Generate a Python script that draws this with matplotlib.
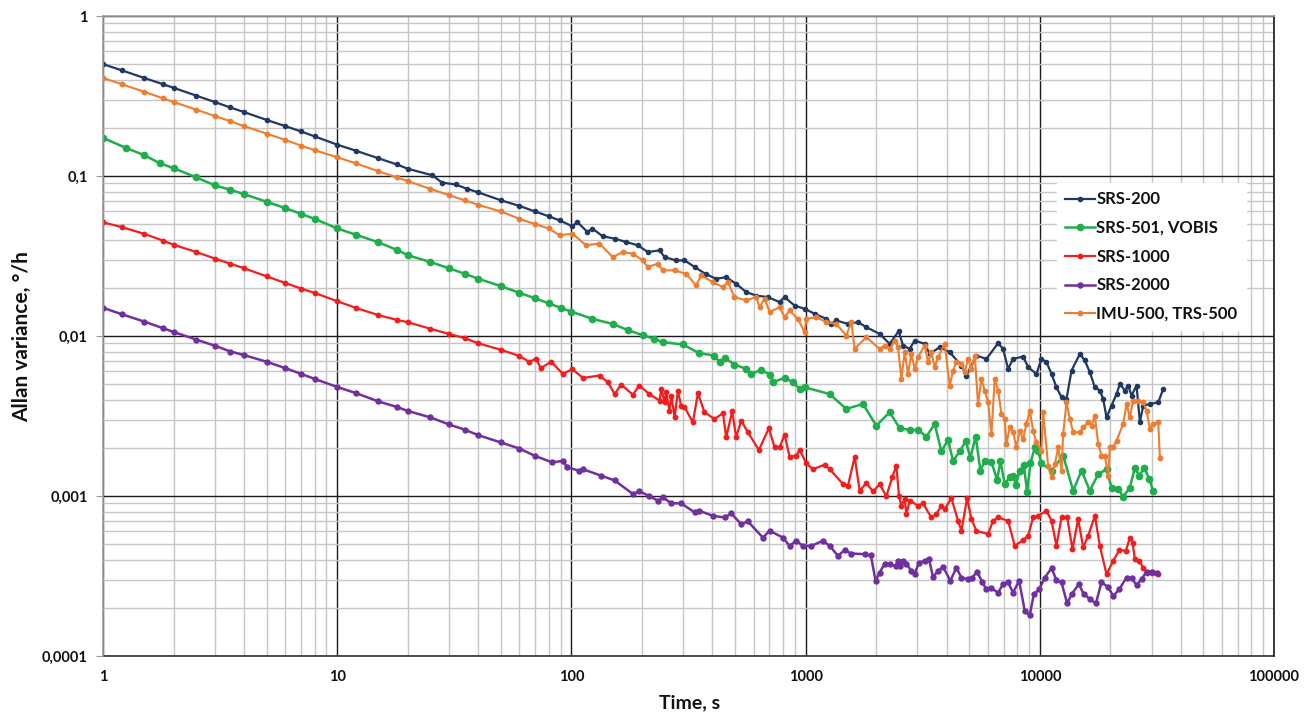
import matplotlib
matplotlib.use("Agg")
import matplotlib.pyplot as plt
from matplotlib.ticker import LogLocator, FuncFormatter, NullFormatter

# ---------------- data (tau [s], Allan variance [deg/h]) ----------------
srs200 = [(1, 0.50), (1.2, 0.458), (1.5, 0.41), (1.8, 0.375), (2, 0.356), (2.5, 0.318), (3, 0.29),
          (3.5, 0.268), (4, 0.251), (5, 0.224), (6, 0.205), (7, 0.19), (8, 0.177), (10, 0.157),
          (12, 0.144), (15, 0.129), (18, 0.118), (20, 0.111), (25.5, 0.101), (28, 0.091), (32, 0.0885),
          (36, 0.083), (40, 0.079), (50, 0.0705), (60, 0.065), (70, 0.06), (80, 0.056), (89, 0.0528),
          (101, 0.0485), (106, 0.0516), (117, 0.0447), (123, 0.0469), (136, 0.042), (153, 0.0406),
          (171, 0.0387), (192, 0.0369), (212, 0.0335), (238, 0.0343), (250, 0.0311), (280, 0.0297),
          (304, 0.0297), (336, 0.027), (376, 0.0243), (415, 0.0228), (458, 0.0233), (505, 0.0212),
          (558, 0.0188), (615, 0.0179), (690, 0.0175), (774, 0.0163), (813, 0.0175), (897, 0.0155),
          (990, 0.0148), (1093, 0.01377), (1226, 0.0128), (1287, 0.0119), (1352, 0.0125), (1517, 0.0119),
          (1674, 0.0122), (1816, 0.01136), (2071, 0.0103), (2286, 0.00893), (2497, 0.01072),
          (2606, 0.00872), (2782, 0.00831), (2923, 0.00937), (3225, 0.00893), (3388, 0.00773),
          (3737, 0.00851), (4124, 0.00792), (4627, 0.00654), (4861, 0.00566), (5363, 0.00755),
          (5917, 0.00719), (6636, 0.00902), (6970, 0.00831), (7322, 0.00623), (7691, 0.00719),
          (8487, 0.00744), (8916, 0.00638), (9677, 0.0058), (10160, 0.00719), (10680, 0.00686),
          (11220, 0.0058), (11780, 0.00478), (12380, 0.00414), (13000, 0.00404), (13660, 0.00608),
          (14830, 0.00773), (15570, 0.00703), (16350, 0.00594), (17180, 0.00478), (18050, 0.00456),
          (18650, 0.00404), (19270, 0.0031), (20240, 0.00367), (21270, 0.00434), (21970, 0.00502),
          (23080, 0.00456), (23850, 0.0049), (24640, 0.00424), (25890, 0.0049), (26750, 0.00289),
          (27640, 0.00367), (29520, 0.00376), (32040, 0.00385), (33660, 0.00467)]

srs501 = [(1, 0.173), (1.25, 0.150), (1.5, 0.135), (1.75, 0.12), (2, 0.112), (2.5, 0.098), (3, 0.0875),
          (3.5, 0.082), (4, 0.077), (5, 0.069), (6, 0.063), (7, 0.058), (8, 0.054), (10, 0.047),
          (12, 0.043), (15, 0.0385), (18, 0.0345), (20, 0.032), (25, 0.029), (30, 0.0265), (35, 0.0245),
          (40, 0.0228), (50, 0.0205), (60, 0.0186), (70, 0.0172), (80, 0.016), (90, 0.015), (100, 0.0142),
          (123, 0.0128), (150, 0.0119), (174, 0.0109), (202, 0.0101), (226, 0.0096), (246, 0.00915),
          (299, 0.00885), (352, 0.0078), (408, 0.00755), (429, 0.00686), (451, 0.0073), (497, 0.00663),
          (558, 0.00623), (586, 0.0058), (646, 0.00614), (702, 0.00574), (725, 0.00514), (813, 0.00547),
          (883, 0.00514), (943, 0.00467), (990, 0.00478), (1266, 0.00434), (1492, 0.0035), (1758, 0.00376),
          (2004, 0.00275), (2286, 0.00334), (2522, 0.00265), (2782, 0.00259), (3020, 0.00259),
          (3279, 0.00235), (3557, 0.00282), (3800, 0.0019), (4056, 0.00224), (4262, 0.00166),
          (4551, 0.0019), (4828, 0.0022), (5053, 0.00174), (5326, 0.00235), (5577, 0.00144),
          (5821, 0.00166), (6215, 0.00164), (6570, 0.00126), (6790, 0.00165), (7085, 0.00119),
          (7442, 0.00131), (7691, 0.00134), (7897, 0.00117), (8212, 0.00144), (8543, 0.00157),
          (8829, 0.00106), (9120, 0.0016), (9519, 0.00201), (9837, 0.00192), (10160, 0.0016),
          (11220, 0.00144), (12580, 0.00179), (13880, 0.00108), (15070, 0.00144), (16350, 0.00108),
          (17760, 0.00137), (19270, 0.00147), (20240, 0.00113), (21610, 0.00111), (22700, 0.00099),
          (24240, 0.00113), (25470, 0.0015), (26580, 0.00134), (27920, 0.0015), (29330, 0.00128),
          (30500, 0.00107)]

srs1000 = [(1, 0.0513), (1.2, 0.048), (1.5, 0.0435), (1.8, 0.0395), (2, 0.0372), (2.5, 0.0335),
           (3, 0.0305), (3.5, 0.0283), (4, 0.0265), (5, 0.0236), (6, 0.0215), (7, 0.0198), (8, 0.0186),
           (10, 0.0165), (12, 0.015), (15, 0.0135), (18, 0.0126), (20, 0.0122), (25, 0.0111), (30, 0.0103),
           (35, 0.0097), (40, 0.009), (50, 0.0082), (60, 0.0075), (66, 0.0069), (70.6, 0.0072), (74, 0.0063),
           (82, 0.0069), (92, 0.0058), (101, 0.0062), (112, 0.00547), (132, 0.00566), (143, 0.00514),
           (153, 0.00434), (163, 0.00497), (183, 0.0043), (195, 0.0049), (215, 0.00434), (238, 0.00395),
           (242, 0.00467), (250, 0.00385), (254, 0.00445), (262, 0.00342), (267, 0.00424), (276, 0.0031),
           (285, 0.00456), (294, 0.00367), (304, 0.00359), (330, 0.00289), (347, 0.00439), (370, 0.00334),
           (408, 0.00303), (444, 0.00329), (458, 0.00233), (486, 0.00338), (505, 0.00233), (531, 0.00296),
           (567, 0.0025), (632, 0.00194), (697, 0.00266), (737, 0.00201), (774, 0.00201), (813, 0.00242),
           (854, 0.00176), (912, 0.00179), (943, 0.00194), (1007, 0.0016), (1075, 0.00147), (1206, 0.00157),
           (1266, 0.00147), (1444, 0.00119), (1517, 0.00116), (1620, 0.00176), (1701, 0.00108),
           (1816, 0.0012), (1940, 0.00107), (2071, 0.00118), (2212, 0.001), (2346, 0.00131),
           (2440, 0.00155), (2505, 0.001), (2564, 0.00087), (2649, 0.000957), (2693, 0.00077),
           (2782, 0.000934), (3020, 0.00087), (3172, 0.000899), (3443, 0.000734), (3617, 0.00077),
           (3800, 0.00087), (3926, 0.000828), (4194, 0.00097), (4477, 0.0007), (4627, 0.000606),
           (4892, 0.00097), (5105, 0.000717), (5362, 0.000606), (6014, 0.000578), (6318, 0.0007),
           (6636, 0.000734), (7322, 0.0007), (7818, 0.000488), (8487, 0.00053), (8916, 0.000564),
           (9364, 0.000734), (9837, 0.000752), (10680, 0.000808), (11220, 0.0007), (11780, 0.000488),
           (12380, 0.000734), (13090, 0.000734), (13790, 0.000465), (14580, 0.000717), (15320, 0.000477),
           (16090, 0.000564), (17180, 0.000752), (18050, 0.000488), (19270, 0.000324), (20580, 0.000393),
           (21830, 0.000459), (23310, 0.000455), (24240, 0.00055), (24890, 0.000512), (25460, 0.000403),
           (26580, 0.000393), (27640, 0.000357), (28560, 0.000332), (30010, 0.000332), (32040, 0.000327)]

srs2000 = [(1, 0.015), (1.2, 0.0137), (1.5, 0.0123), (1.8, 0.0112), (2, 0.0106), (2.5, 0.0095),
           (3, 0.0087), (3.5, 0.008), (4, 0.0076), (5, 0.0069), (6, 0.0063), (7, 0.0058), (8, 0.0054),
           (10, 0.0048), (12, 0.0044), (15, 0.0039), (18, 0.0036), (20, 0.0034), (25, 0.0031), (30, 0.0028),
           (35, 0.0026), (40, 0.0024), (50, 0.00216), (60, 0.00198), (70, 0.00178), (83, 0.00162),
           (92, 0.00166), (96, 0.00151), (108, 0.00144), (112, 0.00147), (134, 0.00134), (153, 0.00125),
           (183, 0.00103), (195, 0.00107), (215, 0.001), (234, 0.000935), (246, 0.00098), (267, 0.0009),
           (294, 0.0009), (336, 0.00079), (352, 0.000808), (402, 0.000752), (451, 0.000734), (481, 0.000778),
           (531, 0.000667), (567, 0.000693), (657, 0.00055), (702, 0.000606), (800, 0.00055), (854, 0.000488),
           (912, 0.000525), (974, 0.000488), (1057, 0.000488), (1186, 0.000525), (1266, 0.000488),
           (1375, 0.000423), (1468, 0.000459), (1567, 0.000437), (1787, 0.000433), (1900, 0.000425),
           (1990, 0.000295), (2071, 0.000332), (2176, 0.000378), (2286, 0.000375), (2424, 0.000366),
           (2480, 0.000393), (2538, 0.000366), (2606, 0.000393), (2693, 0.000378), (2828, 0.00034),
           (2923, 0.000327), (3050, 0.000384), (3225, 0.000393), (3365, 0.000403), (3500, 0.000312),
           (3676, 0.00034), (3863, 0.000361), (4152, 0.000295), (4404, 0.000357), (4627, 0.000309),
           (4939, 0.000302), (5155, 0.000309), (5397, 0.000337), (5689, 0.000288), (5917, 0.000261),
           (6215, 0.000265), (6636, 0.000249), (6970, 0.000281), (7322, 0.000288), (7691, 0.000249),
           (8160, 0.000295), (8630, 0.000191), (9062, 0.00018), (9427, 0.000243), (9934, 0.000261),
           (10500, 0.000309), (11220, 0.000354), (11780, 0.000298), (12380, 0.000288), (13090, 0.000213),
           (13660, 0.000243), (14680, 0.000281), (15420, 0.000243), (16460, 0.000226), (17350, 0.000213),
           (18340, 0.000288), (19590, 0.00027), (20580, 0.000237), (21830, 0.000261), (23460, 0.000309),
           (24640, 0.000306), (25890, 0.000278), (27200, 0.000302), (28560, 0.000337), (30010, 0.000337),
           (31520, 0.000332)]

imu500 = [(1, 0.41), (1.2, 0.375), (1.5, 0.336), (1.8, 0.306), (2, 0.29), (2.5, 0.26), (3, 0.237),
          (3.5, 0.22), (4, 0.205), (5, 0.184), (6, 0.168), (7, 0.155), (8, 0.145), (10, 0.131), (12, 0.12),
          (15, 0.107), (18, 0.098), (20, 0.093), (25, 0.083), (30, 0.076), (35, 0.0705), (40, 0.066),
          (50, 0.06), (60, 0.054), (70, 0.05), (80, 0.047), (89, 0.0426), (101, 0.0436), (115.5, 0.0369),
          (131.7, 0.0378), (150.2, 0.0311), (165.7, 0.0335), (182.8, 0.0327), (201.7, 0.0297),
          (211.9, 0.027), (233.8, 0.0283), (245.7, 0.0257), (275.6, 0.0257), (309, 0.0245), (341, 0.0207),
          (358, 0.0239), (402, 0.0217), (443, 0.0202), (466, 0.0217), (497, 0.0175), (558, 0.0167),
          (615, 0.0175), (636, 0.01515), (668, 0.0171), (702, 0.0141), (774, 0.01515), (813, 0.01312),
          (854, 0.01444), (927, 0.0128), (990, 0.01057), (1007, 0.0128), (1111, 0.01312), (1226, 0.0122),
          (1352, 0.0119), (1492, 0.01007), (1567, 0.0122), (1620, 0.00831), (1816, 0.00983),
          (2071, 0.00831), (2176, 0.00872), (2286, 0.00831), (2401, 0.00937), (2480, 0.00851),
          (2564, 0.00539), (2649, 0.00792), (2737, 0.0058), (2828, 0.00773), (2923, 0.00623),
          (3020, 0.00737), (3225, 0.00872), (3332, 0.00686), (3443, 0.00792), (3557, 0.00638),
          (3676, 0.00737), (3926, 0.00893), (4124, 0.0049), (4262, 0.00608), (4404, 0.00686),
          (4627, 0.00669), (4780, 0.00594), (4939, 0.00719), (5105, 0.00623), (5275, 0.00755),
          (5450, 0.00376), (5632, 0.00539), (5820, 0.00456), (6014, 0.00385), (6214, 0.00244),
          (6421, 0.00539), (6636, 0.00456), (6857, 0.00326), (7085, 0.00303), (7202, 0.00211),
          (7442, 0.00269), (7691, 0.0025), (7947, 0.00201), (8212, 0.00256), (8487, 0.00227),
          (8769, 0.00282), (9062, 0.00342), (9364, 0.00256), (9677, 0.00216), (10160, 0.00192),
          (10330, 0.00334), (10850, 0.00155), (11220, 0.00131), (11590, 0.00158), (11980, 0.00201),
          (12380, 0.00144), (12580, 0.00244), (13000, 0.00385), (13440, 0.00303), (13880, 0.0025),
          (14830, 0.0025), (15320, 0.00269), (16090, 0.00289), (16630, 0.00275), (17180, 0.00318),
          (17760, 0.00211), (18340, 0.00179), (18960, 0.00179), (19590, 0.00134), (19910, 0.00201),
          (20580, 0.00201), (21270, 0.00222), (22700, 0.00282), (23460, 0.00376), (24240, 0.0031),
          (25050, 0.00395), (26320, 0.00395), (27640, 0.00385), (28560, 0.00342), (29520, 0.00262),
          (30500, 0.00282), (32040, 0.00289), (32570, 0.00174)]

series_labels = ["SRS-200", "SRS-501, VOBIS", "SRS-1000", "SRS-2000", "IMU-500, TRS-500"]
series_colors = ["#1f3864", "#1fae4b", "#f21d1d", "#7030a0", "#ed7d31"]
x_tick_values = [1, 10, 100, 1000, 10000, 100000]
y_tick_values = [0.0001, 0.001, 0.01, 0.1, 1]

FONT = ["Lato", "DejaVu Sans"]
plt.rcParams["font.family"] = FONT

fig = plt.figure(figsize=(13.16, 7.13), dpi=100)
ax = fig.add_axes([103 / 1316, 57 / 713, 1171 / 1316, 640 / 713])
ax.set_xscale("log")
ax.set_yscale("log")
ax.set_xlim(1, 1e5)
ax.set_ylim(1e-4, 1)

ax.xaxis.set_minor_locator(LogLocator(base=10, subs=range(2, 10), numticks=100))
ax.yaxis.set_minor_locator(LogLocator(base=10, subs=range(2, 10), numticks=100))
ax.set_xticks(x_tick_values)
ax.set_yticks(y_tick_values)
ax.xaxis.set_major_formatter(FuncFormatter(lambda v, p: f"{v:g}"))
ax.yaxis.set_major_formatter(FuncFormatter(lambda v, p: f"{v:g}".replace(".", ",")))
ax.xaxis.set_minor_formatter(NullFormatter())
ax.yaxis.set_minor_formatter(NullFormatter())

ax.grid(which="minor", color="#c6c6c6", lw=1.0)
ax.grid(which="major", color="#1a1a1a", lw=1.0)
ax.set_axisbelow(True)

ax.tick_params(axis="x", which="both", length=0, pad=10)
ax.tick_params(axis="y", which="major", length=5, color="#999999", pad=6, direction="out")
ax.tick_params(axis="y", which="minor", length=0)
for lab in ax.get_xticklabels() + ax.get_yticklabels():
    lab.set_fontweight("bold")
    lab.set_fontsize(10.5)
    lab.set_color("#111111")

for side in ["left", "top", "right"]:
    ax.spines[side].set_color("#a0a0a0")
    ax.spines[side].set_linewidth(1.2)
    ax.spines[side].set_zorder(3)
ax.spines["right"].set_color("#1a1a1a")
ax.spines["bottom"].set_color("#404040")
ax.spines["bottom"].set_linewidth(1.3)

all_series = [srs200, srs501, srs1000, srs2000, imu500]
msizes = [3.0, 4.5, 3.2, 3.6, 3.2]
lwidths = [1.6, 1.8, 1.6, 1.8, 1.5]
for data, lab, col, ms, lw in zip(all_series, series_labels, series_colors, msizes, lwidths):
    xs = [p[0] for p in data]
    ys = [p[1] for p in data]
    ax.plot(xs, ys, color=col, lw=lw, marker="o", ms=ms, mec=col, mfc=col, label=lab)

leg = ax.legend(loc="upper left", bbox_to_anchor=(1057 / 1316, 1 - 183 / 713),
                bbox_transform=fig.transFigure, frameon=True, fancybox=False,
                facecolor="white", edgecolor="white", framealpha=1,
                prop={"family": FONT, "weight": "bold", "size": 12},
                handlelength=1.75, handletextpad=0.12, labelspacing=0.76, borderpad=0.5,
                borderaxespad=0)
for t in leg.get_texts():
    t.set_color("#111111")

fig.text(22 / 1316, 1 - 337 / 713, "Allan variance, °/h", rotation=90, ha="center", va="center",
         fontsize=15, fontweight="bold", color="#111111")
fig.text(690 / 1316, 1 - 703 / 713, "Time, s", ha="center", va="center",
         fontsize=14, fontweight="bold", color="#111111")

fig.savefig("out.png", dpi=100, facecolor="white")
